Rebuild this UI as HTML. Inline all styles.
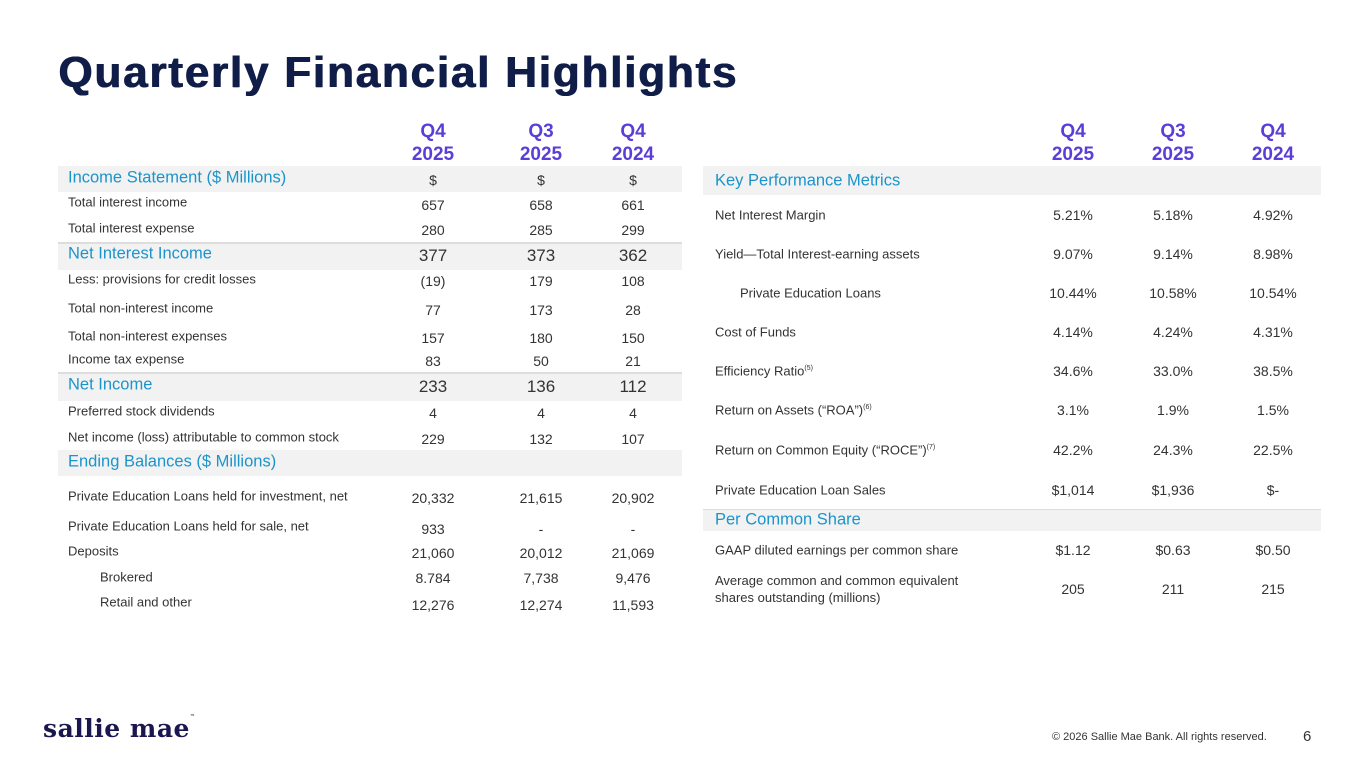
<!DOCTYPE html>
<html><head><meta charset="utf-8"><style>
body{margin:0;width:1365px;height:768px;background:#fff;position:relative;overflow:hidden;font-family:"Liberation Sans",sans-serif;color:#333}
.a{position:absolute;white-space:nowrap}
.lbl{font-size:13px;color:#333;transform:translateY(-50%)}
.v{font-size:14px;color:#333;transform:translate(-50%,-50%);text-align:center}
.vb{font-size:17px;color:#333;transform:translate(-50%,-50%)}
.sec{font-size:16.5px;color:#1b94cc;transform:translateY(-50%)}
.band{position:absolute;background:#f2f2f2}
.hd{position:absolute;font-size:19px;font-weight:bold;color:#5a3ed8;text-align:center;line-height:23px;transform:translateX(-50%)}
sup{font-size:7px}
</style></head><body>
<div class="a" style="left:58px;top:48px;font-size:44px;font-weight:bold;color:#0f1d48;letter-spacing:1.8px;text-shadow:1px 0 0 #0f1d48,0.5px 0 0 #0f1d48">Quarterly Financial Highlights</div>

<!-- left table -->
<div>
<div class="hd" style="left:433px;top:120px">Q4<br>2025</div>
<div class="hd" style="left:541px;top:120px">Q3<br>2025</div>
<div class="hd" style="left:633px;top:120px">Q4<br>2024</div>
<div class="band" style="left:58px;top:166px;width:624px;height:26px"></div>
<div class="band" style="left:58px;top:242px;width:624px;height:26px;border-top:2px solid #ddd"></div>
<div class="band" style="left:58px;top:372px;width:624px;height:27px;border-top:2px solid #ddd"></div>
<div class="band" style="left:58px;top:450px;width:624px;height:26px"></div>
<div class="a sec" style="left:68px;top:178px">Income Statement ($ Millions)</div>
<div class="a v" style="left:433px;top:180px">$</div><div class="a v" style="left:541px;top:180px">$</div><div class="a v" style="left:633px;top:180px">$</div>

<div class="a lbl" style="left:68px;top:202px">Total interest income</div>
<div class="a v" style="left:433px;top:205px">657</div><div class="a v" style="left:541px;top:205px">658</div><div class="a v" style="left:633px;top:205px">661</div>
<div class="a lbl" style="left:68px;top:228px">Total interest expense</div>
<div class="a v" style="left:433px;top:230px">280</div><div class="a v" style="left:541px;top:230px">285</div><div class="a v" style="left:633px;top:230px">299</div>
<div class="a sec" style="left:68px;top:254px">Net Interest Income</div>
<div class="a vb" style="left:433px;top:256px">377</div><div class="a vb" style="left:541px;top:256px">373</div><div class="a vb" style="left:633px;top:256px">362</div>
<div class="a lbl" style="left:68px;top:279px">Less: provisions for credit losses</div>
<div class="a v" style="left:433px;top:281px">(19)</div><div class="a v" style="left:541px;top:281px">179</div><div class="a v" style="left:633px;top:281px">108</div>
<div class="a lbl" style="left:68px;top:308px">Total non-interest income</div>
<div class="a v" style="left:433px;top:310px">77</div><div class="a v" style="left:541px;top:310px">173</div><div class="a v" style="left:633px;top:310px">28</div>
<div class="a lbl" style="left:68px;top:336px">Total non-interest expenses</div>
<div class="a v" style="left:433px;top:338px">157</div><div class="a v" style="left:541px;top:338px">180</div><div class="a v" style="left:633px;top:338px">150</div>
<div class="a lbl" style="left:68px;top:359px">Income tax expense</div>
<div class="a v" style="left:433px;top:361px">83</div><div class="a v" style="left:541px;top:361px">50</div><div class="a v" style="left:633px;top:361px">21</div>
<div class="a sec" style="left:68px;top:385px">Net Income</div>
<div class="a vb" style="left:433px;top:387px">233</div><div class="a vb" style="left:541px;top:387px">136</div><div class="a vb" style="left:633px;top:387px">112</div>
<div class="a lbl" style="left:68px;top:411px">Preferred stock dividends</div>
<div class="a v" style="left:433px;top:413px">4</div><div class="a v" style="left:541px;top:413px">4</div><div class="a v" style="left:633px;top:413px">4</div>
<div class="a lbl" style="left:68px;top:437px">Net income (loss) attributable to common stock</div>
<div class="a v" style="left:433px;top:439px">229</div><div class="a v" style="left:541px;top:439px">132</div><div class="a v" style="left:633px;top:439px">107</div>
<div class="a sec" style="left:68px;top:462px">Ending Balances ($ Millions)</div>
<div class="a lbl" style="left:68px;top:496px">Private Education Loans held for investment, net</div>
<div class="a v" style="left:433px;top:498px">20,332</div><div class="a v" style="left:541px;top:498px">21,615</div><div class="a v" style="left:633px;top:498px">20,902</div>
<div class="a lbl" style="left:68px;top:526px">Private Education Loans held for sale, net</div>
<div class="a v" style="left:433px;top:529px">933</div><div class="a v" style="left:541px;top:529px">-</div><div class="a v" style="left:633px;top:529px">-</div>
<div class="a lbl" style="left:68px;top:551px">Deposits</div>
<div class="a v" style="left:433px;top:553px">21,060</div><div class="a v" style="left:541px;top:553px">20,012</div><div class="a v" style="left:633px;top:553px">21,069</div>
<div class="a lbl" style="left:100px;top:577px">Brokered</div>
<div class="a v" style="left:433px;top:578px">8.784</div><div class="a v" style="left:541px;top:578px">7,738</div><div class="a v" style="left:633px;top:578px">9,476</div>
<div class="a lbl" style="left:100px;top:602px">Retail and other</div>
<div class="a v" style="left:433px;top:605px">12,276</div><div class="a v" style="left:541px;top:605px">12,274</div><div class="a v" style="left:633px;top:605px">11,593</div>
</div>

<!-- right table -->
<div>
<div class="hd" style="left:1073px;top:120px">Q4<br>2025</div>
<div class="hd" style="left:1173px;top:120px">Q3<br>2025</div>
<div class="hd" style="left:1273px;top:120px">Q4<br>2024</div>
<div class="band" style="left:703px;top:166px;width:618px;height:29px"></div>
<div class="band" style="left:703px;top:509px;width:618px;height:21px;border-top:1px solid #ddd"></div>
<div class="a sec" style="left:715px;top:181px">Key Performance Metrics</div>
<div class="a lbl" style="left:715px;top:215px">Net Interest Margin</div>
<div class="a v" style="left:1073px;top:215px">5.21%</div><div class="a v" style="left:1173px;top:215px">5.18%</div><div class="a v" style="left:1273px;top:215px">4.92%</div>
<div class="a lbl" style="left:715px;top:254px">Yield—Total Interest-earning assets</div>
<div class="a v" style="left:1073px;top:254px">9.07%</div><div class="a v" style="left:1173px;top:254px">9.14%</div><div class="a v" style="left:1273px;top:254px">8.98%</div>
<div class="a lbl" style="left:740px;top:293px">Private Education Loans</div>
<div class="a v" style="left:1073px;top:293px">10.44%</div><div class="a v" style="left:1173px;top:293px">10.58%</div><div class="a v" style="left:1273px;top:293px">10.54%</div>
<div class="a lbl" style="left:715px;top:332px">Cost of Funds</div>
<div class="a v" style="left:1073px;top:332px">4.14%</div><div class="a v" style="left:1173px;top:332px">4.24%</div><div class="a v" style="left:1273px;top:332px">4.31%</div>
<div class="a lbl" style="left:715px;top:371px">Efficiency Ratio<sup>(5)</sup></div>
<div class="a v" style="left:1073px;top:371px">34.6%</div><div class="a v" style="left:1173px;top:371px">33.0%</div><div class="a v" style="left:1273px;top:371px">38.5%</div>
<div class="a lbl" style="left:715px;top:410px">Return on Assets (“ROA”)<sup>(6)</sup></div>
<div class="a v" style="left:1073px;top:410px">3.1%</div><div class="a v" style="left:1173px;top:410px">1.9%</div><div class="a v" style="left:1273px;top:410px">1.5%</div>
<div class="a lbl" style="left:715px;top:450px">Return on Common Equity (“ROCE”)<sup>(7)</sup></div>
<div class="a v" style="left:1073px;top:450px">42.2%</div><div class="a v" style="left:1173px;top:450px">24.3%</div><div class="a v" style="left:1273px;top:450px">22.5%</div>
<div class="a lbl" style="left:715px;top:490px">Private Education Loan Sales</div>
<div class="a v" style="left:1073px;top:490px">$1,014</div><div class="a v" style="left:1173px;top:490px">$1,936</div><div class="a v" style="left:1273px;top:490px">$-</div>
<div class="a sec" style="left:715px;top:520px">Per Common Share</div>
<div class="a lbl" style="left:715px;top:550px">GAAP diluted earnings per common share</div>
<div class="a v" style="left:1073px;top:550px">$1.12</div><div class="a v" style="left:1173px;top:550px">$0.63</div><div class="a v" style="left:1273px;top:550px">$0.50</div>
<div class="a lbl" style="left:715px;top:589px;line-height:17px">Average common and common equivalent<br>shares outstanding (millions)</div>
<div class="a v" style="left:1073px;top:589px">205</div><div class="a v" style="left:1173px;top:589px">211</div><div class="a v" style="left:1273px;top:589px">215</div>
</div>

<div class="a" style="left:43px;top:714px;font-family:'DejaVu Serif',serif;font-weight:bold;font-size:25px;color:#1a1650;letter-spacing:0.5px">sallie mae<span style="font-size:5px;vertical-align:top">™</span></div>
<div class="a" style="left:1052px;top:731px;font-size:11px;color:#333">© 2026 Sallie Mae Bank. All rights reserved.</div>
<div class="a" style="left:1303px;top:728px;font-size:15px;color:#333">6</div>
</body></html>
